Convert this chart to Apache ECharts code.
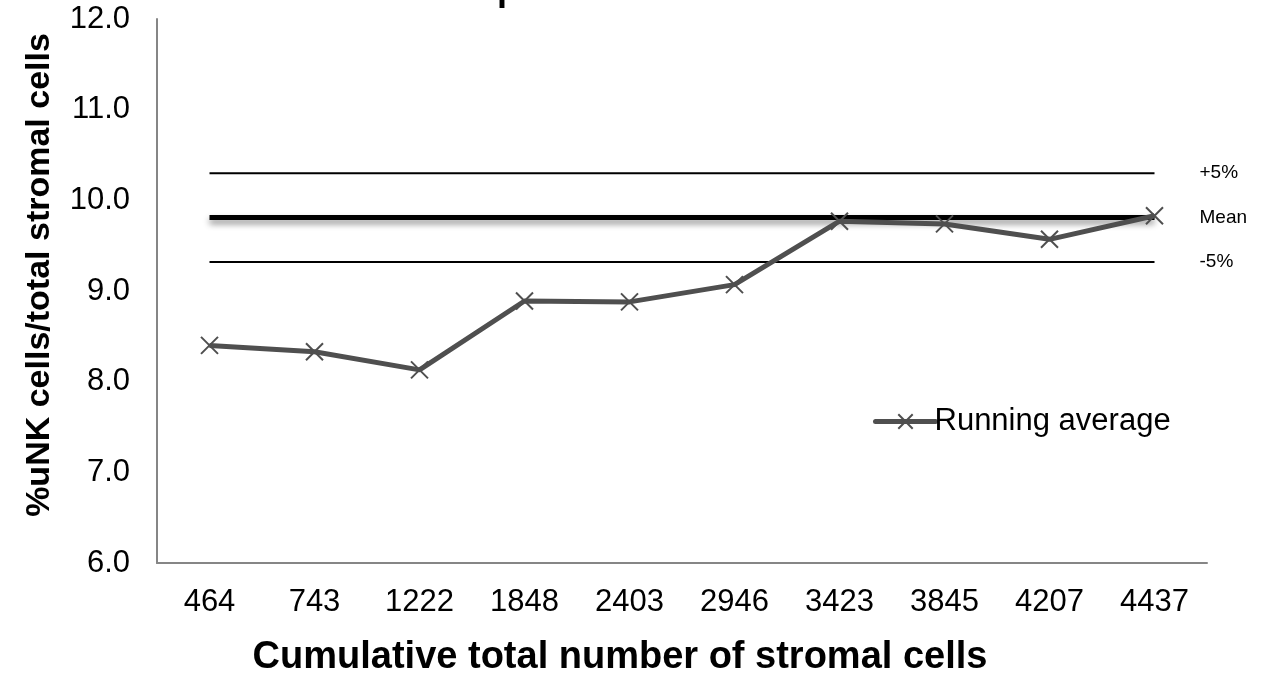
<!DOCTYPE html>
<html>
<head>
<meta charset="utf-8">
<script src="https://cdn.jsdelivr.net/npm/echarts@6/dist/echarts.min.js"></script>
<style>
html,body{margin:0;padding:0;background:#fff;}
#c{width:1276px;height:676px;}
</style>
</head>
<body>
<div id="c"></div>
<script>
const categories = ['464','743','1222','1848','2403','2946','3423','3845','4207','4437'];
const runningAverage = [8.40, 8.33, 8.13, 8.89, 8.88, 9.07, 9.77, 9.74, 9.57, 9.83];
const meanValue = 9.81;
const plus5Value = 10.30;
const minus5Value = 9.32;
const yTicks = {min: 6, max: 12, interval: 1};

const FONT = 'Liberation Sans, Arial, sans-serif';
const fill = v => categories.map(() => v);
const xPath = 'path://M0,0L10,10M10,0L0,10';

const chart = echarts.init(document.getElementById('c'));
chart.setOption({
  animation: false,
  backgroundColor: '#fff',
  graphic: [{
    type: 'text', left: 421, top: -28,
    style: {text: 'Sample', font: 'bold 36px ' + FONT, fill: '#000'}
  }],
  grid: {left: 157, right: 69, top: 19, bottom: 113, outerBoundsMode: 'none', containLabel: false},
  legend: {
    data: [{name: 'Running average'}],
    left: 868, top: 401,
    itemWidth: 60, itemHeight: 18, itemGap: 0,
    lineStyle: {width: 5, color: '#4f4f4f', cap: 'round'},
    itemStyle: {color: 'none', borderColor: '#4f4f4f', borderWidth: 2},
    textStyle: {fontFamily: FONT, fontSize: 31, color: '#000', padding: [0,0,0,-6]}
  },
  xAxis: {
    type: 'category', data: categories, boundaryGap: true,
    axisLine: {lineStyle: {color: '#868686', width: 2}},
    axisTick: {show: false},
    axisLabel: {fontFamily: FONT, fontSize: 31, color: '#000', margin: 24},
    name: 'Cumulative total number of stromal cells',
    nameLocation: 'middle', nameGap: 76,
    nameTextStyle: {fontFamily: FONT, fontSize: 38, fontWeight: 'bold', color: '#000', padding: [0, 124, 0, 0]}
  },
  yAxis: {
    type: 'value', min: yTicks.min, max: yTicks.max, interval: yTicks.interval,
    axisLine: {show: true, lineStyle: {color: '#868686', width: 2}},
    axisTick: {show: false},
    splitLine: {show: false},
    axisLabel: {fontFamily: FONT, fontSize: 31, color: '#000', margin: 27,
      formatter: v => v.toFixed(1)},
    name: '%uNK cells/total stromal cells',
    nameLocation: 'middle', nameGap: 100, nameRotate: 90,
    nameTextStyle: {fontFamily: FONT, fontSize: 34, fontWeight: 'bold', color: '#000', padding: [0, 0, 0, 32]}
  },
  series: [
    {
      name: '+5%', type: 'line', data: fill(plus5Value), symbol: 'none', silent: true,
      lineStyle: {color: '#000', width: 2},
      endLabel: {show: true, formatter: '+5%', fontFamily: FONT, fontSize: 19, color: '#000', distance: 45}
    },
    {
      name: 'Mean', type: 'line', data: fill(meanValue), symbol: 'none', silent: true,
      lineStyle: {color: '#000', width: 5, shadowColor: 'rgba(0,0,0,0.45)', shadowBlur: 6, shadowOffsetY: 4},
      endLabel: {show: true, formatter: 'Mean', fontFamily: FONT, fontSize: 19, color: '#000', distance: 45}
    },
    {
      name: '-5%', type: 'line', data: fill(minus5Value), symbol: 'none', silent: true,
      lineStyle: {color: '#000', width: 2},
      endLabel: {show: true, formatter: '-5%', fontFamily: FONT, fontSize: 19, color: '#000', distance: 45}
    },
    {
      name: 'Running average', type: 'line', data: runningAverage,
      symbol: xPath, symbolSize: 17,
      lineStyle: {color: '#4f4f4f', width: 5},
      itemStyle: {color: 'none', borderColor: '#4f4f4f', borderWidth: 2},
      z: 5
    }
  ]
});
</script>
</body>
</html>
